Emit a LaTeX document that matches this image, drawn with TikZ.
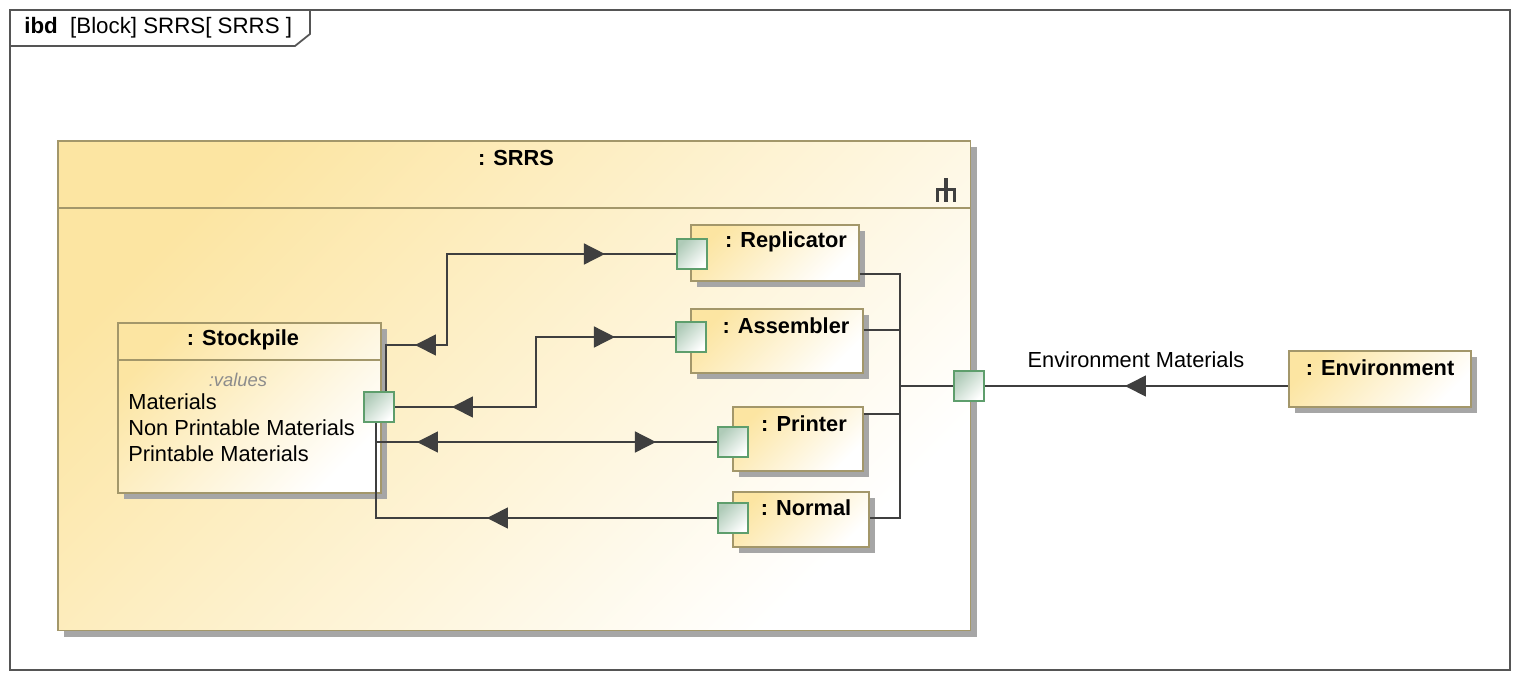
\documentclass[tikz,border=0pt]{standalone}
\usepackage{fontspec}
\setmainfont{Liberation Sans}
\usetikzlibrary{arrows.meta,decorations.markings,shadows}
\definecolor{blkfill}{HTML}{FCE5A2}
\definecolor{blkedge}{HTML}{A3976A}
\definecolor{portfill}{HTML}{AFCBB8}
\definecolor{portedge}{HTML}{5E9E6C}
\definecolor{wire}{HTML}{3F3F3F}
\definecolor{frameline}{HTML}{555555}
\tikzset{%
  block/.style={draw=blkedge,line width=0.9pt,anchor=north west,inner sep=0pt,
    top color=blkfill,bottom color=white,shading angle=45,
    drop shadow={shadow xshift=0.12cm,shadow yshift=-0.12cm,fill=black!35,opacity=1}},
  port/.style={draw=portedge,line width=0.9pt,minimum size=0.6cm,inner sep=0pt,
    top color=portfill,bottom color=white,shading angle=45},
  conn/.style={draw=wire,line width=0.9pt},
  tipfwd/.style={postaction={decorate,decoration={markings,
    mark=at position #1 with {\arrow{Triangle[length=0.42cm,width=0.42cm]}}}}},
  tipback/.style={postaction={decorate,decoration={markings,
    mark=at position #1 with {\arrowreversed{Triangle[length=0.42cm,width=0.42cm]}}}}},
  blktitle/.style={font=\fontsize{12.4}{14}\selectfont\bfseries,inner sep=0pt},
  attr/.style={font=\fontsize{12.4}{14}\selectfont,inner sep=0pt,anchor=west}
}

\begin{document}
\begin{tikzpicture}[x=0.02cm,y=-0.02cm]

    \useasboundingbox[fill=white] (0,0) rectangle (1520,680);

    % diagram frame and its tab
    \draw[frameline,line width=1pt] (10,10) rectangle (1510,670);
    \draw[frameline,line width=1pt] (10,46) -- (295,46) -- (310,34) -- (310,10);
    \node[attr,font=\fontsize{12.7}{14}\selectfont] (tab) at (24,28) {\textbf{ibd}\ \ [Block] SRRS[ SRRS ]};

    % the SRRS block
    \node[block,minimum width=18.26cm,minimum height=9.8cm] (srrs) at (57,140) {};
    \draw[blkedge,line width=0.9pt] (srrs.west |- 0,208) -- (srrs.east |- 0,208);
    \node[blktitle] (srrsT) at (516,158) {: SRRS};
    % structure icon
    \fill[wire] (944,178) rectangle (948,191);
    \fill[wire] (936,188) rectangle (956,191);
    \fill[wire] (936,188) rectangle (939,202);
    \fill[wire] (944,188) rectangle (948,202);
    \fill[wire] (953,188) rectangle (956,202);

    % parts
    \node[block,minimum width=5.26cm,minimum height=3.4cm] (stk) at (117,322) {};
    \draw[blkedge,line width=0.9pt] (stk.west |- 0,360) -- (stk.east |- 0,360);
    \node[blktitle] (stkT) at (243,340) {: Stockpile};
    \node[font=\fontsize{10.5}{12}\selectfont\itshape,text=black!45,inner sep=0pt] (stkV) at (238,380) {:values};
    \node[attr] (a1) at (128,402) {Materials};
    \node[attr] (a2) at (128,428) {Non Printable Materials};
    \node[attr] (a3) at (128,454) {Printable Materials};

    \node[block,minimum width=3.36cm,minimum height=1.12cm] (rep) at (690,224) {};
    \node[blktitle] (repT) at (786,242) {: Replicator};
    \node[block,minimum width=3.44cm,minimum height=1.28cm] (asm) at (690,308) {};
    \node[blktitle] (asmT) at (786,326) {: Assembler};
    \node[block,minimum width=2.6cm,minimum height=1.28cm] (prn) at (732,406) {};
    \node[blktitle] (prnT) at (804,424) {: Printer};
    \node[block,minimum width=2.72cm,minimum height=1.1cm] (nrm) at (732,491) {};
    \node[blktitle] (nrmT) at (806,508) {: Normal};
    \node[block,minimum width=3.64cm,minimum height=1.12cm] (env) at (1288,350) {};
    \node[blktitle] (envT) at (1380,368) {: Environment};

    % ports
    \coordinate (pSc) at (379,407);
    \coordinate (pRc) at (692,254);
    \coordinate (pAc) at (691,337);
    \coordinate (pPc) at (733,442);
    \coordinate (pNc) at (733,518);
    \coordinate (pEc) at (969,386);

    % bends
    \coordinate (bR) at (447,345);
    \coordinate (bA) at (536,337);
    \coordinate (busT) at (900,274);
    \coordinate (busB) at (900,518);
    \coordinate (hA) at (900,330);
    \coordinate (hP) at (900,414);

    % connectors on the left side
    \draw[conn,tipback=1.52cm,tipfwd=7.14cm] ([xshift=0.14cm]pSc |- 0,392) |- (bR) |- ([xshift=-0.3cm]pRc);
    \draw[conn,tipback=1.16cm,tipfwd=5.82cm] ([xshift=0.3cm]pSc) -| (bA) -- ([xshift=-0.3cm]pAc);
    \draw[conn,tipback=1.22cm,tipfwd=6.0cm] ([xshift=-0.06cm]pSc |- 0,422) |- ([xshift=-0.3cm]pPc);
    \draw[conn,tipback=4.14cm] ([xshift=-0.06cm]pSc |- 0,422) |- ([xshift=-0.3cm]pNc);

    % bus on the right side
    \draw[conn] (rep.east |- busT) -- (busT) -- (busB) -- (nrm.east |- busB);
    \draw[conn] (asm.east |- hA) -- (hA);
    \draw[conn] (prn.east |- hP) -- (hP);
    \draw[conn] (busT |- pEc) -- ([xshift=-0.3cm]pEc);
    \draw[conn,tipback=2.82cm] ([xshift=0.3cm]pEc) -- (env.west |- pEc)
        node[midway,above=0.52cm,attr,anchor=center] (flowT) {Environment Materials};

    \node[port] (pS) at (pSc) {};
    \node[port] (pR) at (pRc) {};
    \node[port] (pA) at (pAc) {};
    \node[port] (pP) at (pPc) {};
    \node[port] (pN) at (pNc) {};
    \node[port] (pE) at (pEc) {};

\end{tikzpicture}
\end{document}
